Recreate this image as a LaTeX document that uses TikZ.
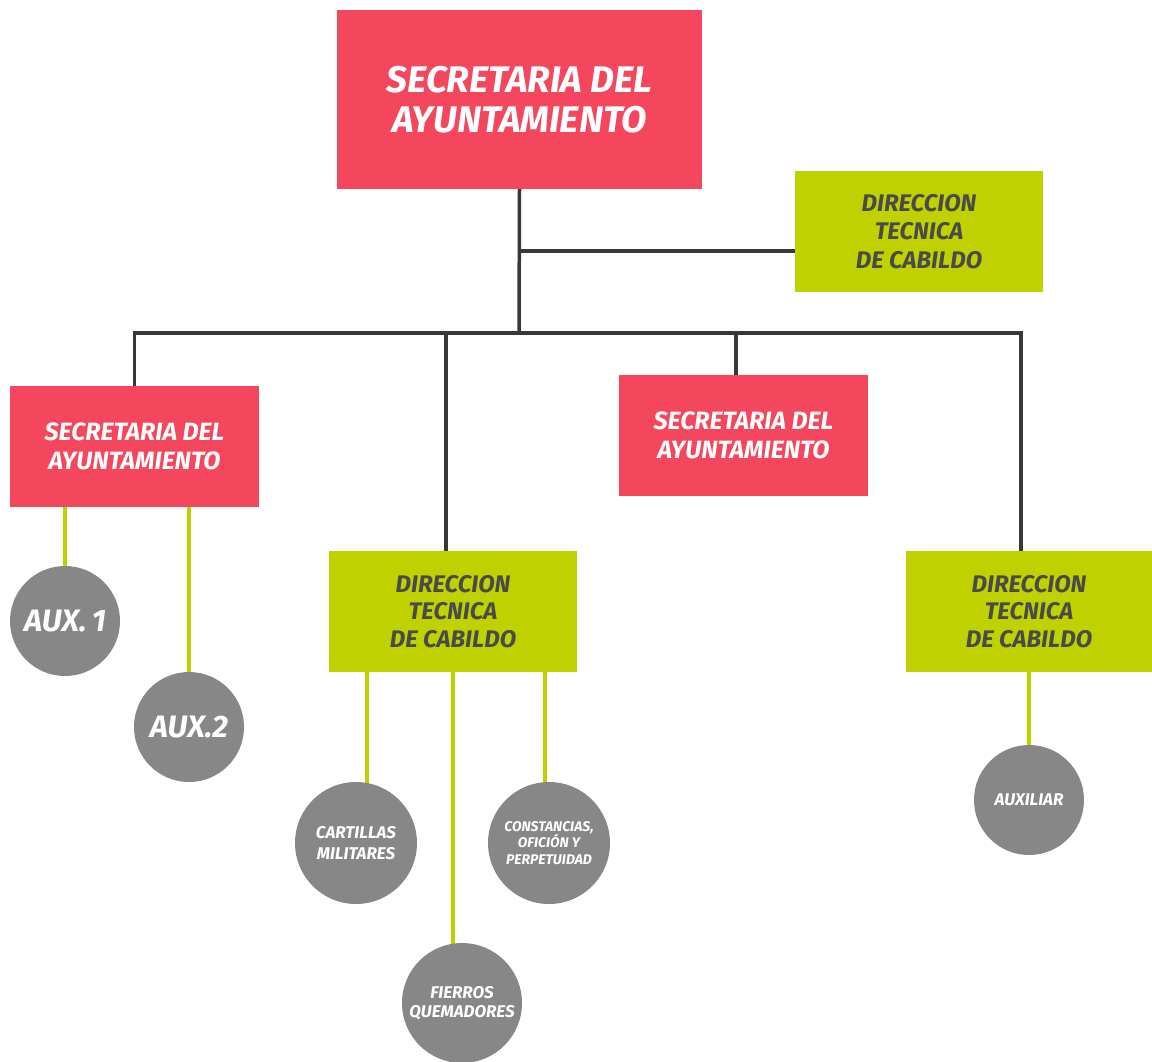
\documentclass[tikz,border=0pt]{standalone}
\usepackage{fontspec}
\setsansfont{Fira Sans}
\usetikzlibrary{backgrounds}
\definecolor{boxred}{HTML}{F4475E}
\definecolor{boxgreen}{HTML}{BFD200}
\definecolor{circgray}{HTML}{878787}
\definecolor{linedark}{HTML}{383838}
\definecolor{textdark}{HTML}{4A4A4A}
\newcommand{\fs}[2]{\fontsize{#1}{#2}\selectfont}
\tikzset{
  redbox/.style={fill=boxred, text=white, align=center, inner sep=0pt},
  greenbox/.style={fill=boxgreen, text=textdark, align=center, inner sep=0pt},
  unit/.style={circle, fill=circgray, text=white, align=center, inner sep=0pt},
  label font/.style 2 args={font=\sffamily\bfseries\itshape\fs{#1}{#2}},
  darkline/.style={draw=linedark, line width=3.5pt},
  greenline/.style={draw=boxgreen, line width=4pt},
}
\begin{document}
\begin{tikzpicture}[x=1pt,y=-1pt]
\useasboundingbox (0,0) rectangle (1152,1061);

% boxes
\node[redbox, minimum width=365pt, minimum height=179pt, label font={37}{40}]
  (top) at (519.5,99.5) {SECRETARIA DEL\\AYUNTAMIENTO};
\node[greenbox, minimum width=248pt, minimum height=121pt, label font={24}{28.5}]
  (dtc) at (919,231.5) {DIRECCION\\TECNICA\\DE CABILDO};
\node[redbox, minimum width=249pt, minimum height=121pt, label font={25}{29}]
  (lred) at (134.5,446.5) {SECRETARIA DEL\\AYUNTAMIENTO};
\node[redbox, minimum width=249pt, minimum height=121pt, label font={25}{29}]
  (mred) at (743.5,435.5) {SECRETARIA DEL\\AYUNTAMIENTO};
\node[greenbox, minimum width=248pt, minimum height=121pt, label font={24}{27.5}]
  (mgreen) at (453,611.5) {DIRECCION\\TECNICA\\DE CABILDO};
\node[greenbox, minimum width=246pt, minimum height=121pt, label font={24}{27.5}]
  (rgreen) at (1029,611.5) {DIRECCION\\TECNICA\\DE CABILDO};

% circles
\node[unit, minimum size=110pt, label font={31}{34}] (aux1) at (65,621) {AUX.\,1};
\node[unit, minimum size=110pt, label font={31}{34}] (aux2) at (189,727) {AUX.2};
\node[unit, minimum size=122pt, label font={17}{21}] (cart) at (356,843)
  {CARTILLAS\\MILITARES};
\node[unit, minimum size=122pt, label font={14}{16.5}] (const) at (549,843)
  {CONSTANCIAS,\\OFICIÓN Y\\PERPETUIDAD};
\node[unit, minimum size=120pt, label font={17}{18.5}] (fier) at (462,1003)
  {FIERROS\\QUEMADORES};
\node[unit, minimum size=110pt, label font={17}{20}] (auxil) at (1029,800) {AUXILIAR};

% junctions
\coordinate (bar) at (519,333);
\coordinate (side) at (519,251);
\coordinate (barL) at (134.5,333);
\coordinate (barR) at (1021,333);

\begin{scope}[on background layer]
  % dark hierarchy lines
  \draw[darkline] (top.south) -- (bar);
  \draw[darkline] (side) -- (dtc.west |- side);
  \draw[darkline, line cap=rect] (barL) -- (barR);
  \draw[darkline] (barL) -- (lred.north);
  \draw[darkline] (446,333) -- (446,551.5);
  \draw[darkline] (736,333) -- (mred.north -| 736,0);
  \draw[darkline] (barR) -- (rgreen.north -| barR);
  % green branch lines
  \draw[greenline] (aux1.center |- lred.south) -- (aux1.center);
  \draw[greenline] (aux2.center |- lred.south) -- (aux2.center);
  \draw[greenline] (367,672) -- (367,843);
  \draw[greenline] (453,672) -- (453,1003);
  \draw[greenline] (545,672) -- (545,843);
  \draw[greenline] (auxil.center |- rgreen.south) -- (auxil.center);
\end{scope}
\end{tikzpicture}
\end{document}
